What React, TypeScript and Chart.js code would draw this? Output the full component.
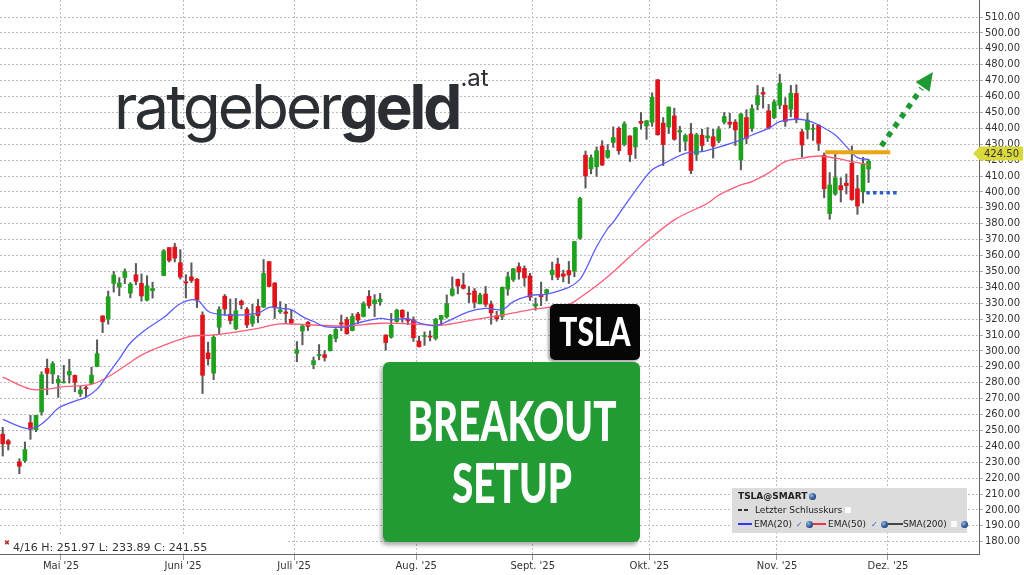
import React, { useEffect, useRef } from "react";
import { Chart, registerables } from "chart.js";

Chart.register(...registerables);

// ---------- DATA ----------
// Trading sessions shown on the chart (x categories). Sessions with null values are empty slots.
const days: string[] = [
  "04/16","04/17","04/18","04/21","04/22","04/23","04/24","04/25","04/28","04/29","04/30",
  "05/01","05/02","05/05","05/06","05/07","05/08","05/09","05/12","05/13","05/14","05/15","05/16","05/19","05/20","05/21","05/22","05/23","05/26","05/27","05/28","05/29","05/30",
  "06/02","06/03","06/04","06/05","06/06","06/09","06/10","06/11","06/12","06/13","06/16","06/17","06/18","06/20","06/23","06/24","06/25","06/26","06/27","06/30",
  "07/01","07/02","07/03","07/07","07/08","07/09","07/10","07/11","07/14","07/15","07/16","07/17","07/18","07/21","07/22","07/23","07/24","07/25","07/28","07/29","07/30","07/31",
  "08/01","08/04","08/05","08/06","08/07","08/08","08/11","08/12","08/13","08/14","08/15","08/18","08/19","08/20","08/21","08/22","08/25","08/26","08/27","08/28","08/29",
  "09/02","09/03","09/04","09/05","09/08","09/09","09/10","09/11","09/12","09/15","09/16","09/17","09/18","09/19","09/22","09/23","09/24","09/25","09/26","09/29","09/30",
  "10/01","10/02","10/03","10/06","10/07","10/08","10/09","10/10","10/13","10/14","10/15","10/16","10/17","10/20","10/21","10/22","10/23","10/24","10/27","10/28","10/29","10/30","10/31",
  "11/03","11/04","11/05","11/06","11/07","11/10","11/11","11/12","11/13","11/14","11/17","11/18","11/19","11/20","11/21","11/24","11/25","11/26","11/27","11/28",
  "12/01",
];

const openP: (number | null)[] = [
  247.6, 243.5, null, 230.3, 231.0, 254.9, 250.5, 261.7, 289.0, 285.5, 279.9,
  280.0, 284.9, 284.6, 273.1, 276.9, 279.6, 290.2, 322.0, 320.0, 342.5, 340.3, 346.2, 336.3, 347.9, 342.5, 331.9, 337.9, null, 347.4, 365.0, 365.3, 355.5,
  343.5, 346.6, 345.1, 322.5, 298.8, 286.0, 314.9, 334.4, 323.1, 314.0, 331.3, 326.1, 317.3, 328.0, 327.5, 356.2, 342.7, 324.6, 324.5, 319.9,
  298.5, 312.6, 318.0, 291.4, 297.0, 297.6, 300.1, 307.9, 317.7, 319.7, 312.8, 323.2, 321.7, 334.4, 329.7, 330.9, 310.0, 308.7, 318.5, 325.6, 320.0, 319.6,
  306.2, 309.1, 308.8, 307.9, 319.8, 321.4, 335.0, 345.0, 341.5, 335.8, 337.7, 329.6, 335.8, 329.2, 322.1, 321.7, 338.9, 344.9, 353.0, 351.9, 347.2,
  328.2, 335.2, 336.2, 348.0, 354.6, 348.4, 350.6, 350.2, 370.9, 423.1, 414.5, 415.8, 428.9, 421.8, 431.1, 439.9, 429.8, 435.2, 428.3, 444.4, 441.5,
  443.8, 470.5, 443.3, 440.8, 447.8, 437.6, 431.8, 436.5, 423.5, 435.7, 434.0, 434.7, 432.1, 443.9, 443.9, 443.9, 420.0, 446.8, 439.9, 454.8, 462.5, 451.0, 446.8,
  454.5, 454.5, 452.0, 461.9, 437.8, 439.2, 439.4, 442.0, 423.0, 386.4, 398.7, 404.0, 405.5, 418.0, 402.0, 400.0, 414.4,
];

const highP: (number | null)[] = [
  251.97, 244.3, null, 232.2, 242.8, 259.5, 259.5, 286.9, 294.9, 293.3, 284.5,
  290.9, 294.8, 284.9, 277.7, 277.9, 289.8, 307.0, 322.2, 337.6, 350.0, 346.1, 351.6, 343.0, 355.0, 348.4, 347.3, 343.2, null, 363.8, 365.0, 367.7, 363.7,
  348.0, 355.4, 345.6, 324.6, 305.5, 309.8, 327.8, 335.5, 332.6, 333.0, 332.1, 327.3, 329.3, 332.4, 357.5, 356.3, 343.0, 331.1, 329.3, 325.6,
  305.9, 316.8, 318.5, 296.2, 304.0, 300.2, 310.5, 314.1, 322.6, 321.2, 323.5, 324.3, 330.9, 338.0, 335.4, 336.2, 310.2, 323.6, 326.3, 326.0, 324.5, 321.4,
  309.3, 312.0, 312.6, 320.5, 322.4, 335.2, 346.6, 345.3, 348.9, 340.5, 339.3, 336.3, 340.6, 331.4, 324.9, 340.3, 349.5, 351.9, 355.4, 353.5, 348.8,
  333.3, 343.3, 338.9, 355.9, 358.4, 350.8, 356.3, 369.0, 396.7, 425.7, 423.3, 428.3, 432.2, 429.8, 440.9, 440.9, 444.2, 435.4, 440.5, 450.0, 445.0,
  462.3, 470.8, 446.8, 453.5, 452.7, 441.3, 436.4, 443.1, 436.9, 439.4, 440.5, 439.4, 441.1, 450.0, 449.5, 445.5, 449.4, 451.7, 454.8, 467.0, 465.7, 455.0, 458.0,
  474.1, 459.3, 467.0, 467.4, 439.4, 449.7, 442.5, 442.3, 424.5, 412.2, 423.9, 408.9, 411.3, 428.9, 410.4, 421.7, 420.5,
];

const lowP: (number | null)[] = [
  233.89, 237.7, null, 222.8, 229.9, 244.4, 249.2, 259.6, 272.4, 279.5, 270.8,
  279.8, 279.8, 274.3, 271.4, 271.0, 279.4, 290.0, 311.5, 316.8, 337.0, 334.7, 342.3, 333.4, 341.6, 331.3, 331.4, 333.2, null, 347.3, 355.9, 356.0, 345.2,
  333.3, 343.0, 327.3, 273.2, 291.1, 281.9, 310.7, 322.5, 316.9, 313.3, 326.4, 314.7, 315.5, 317.8, 327.5, 340.4, 320.4, 323.6, 317.5, 316.6,
  293.2, 303.8, 312.8, 288.8, 294.4, 293.6, 300.0, 305.7, 312.7, 310.5, 312.6, 317.1, 321.4, 326.9, 321.6, 328.7, 300.4, 308.0, 318.0, 318.0, 316.5, 306.0,
  302.5, 303.5, 306.3, 306.9, 316.2, 320.6, 334.5, 335.9, 338.9, 330.4, 327.0, 329.6, 327.9, 316.8, 318.7, 319.7, 335.0, 343.7, 345.1, 340.7, 331.7,
  325.6, 328.5, 331.5, 344.7, 344.8, 343.4, 342.4, 346.6, 370.2, 402.4, 411.4, 409.7, 416.6, 421.1, 428.0, 423.7, 429.0, 419.1, 421.0, 439.4, 433.1,
  441.3, 435.6, 416.6, 436.7, 432.5, 425.2, 426.0, 411.5, 419.7, 425.3, 431.7, 421.3, 430.9, 442.7, 440.4, 429.2, 413.9, 430.3, 438.1, 451.6, 452.7, 439.6, 446.1,
  452.3, 441.2, 447.2, 443.5, 421.9, 433.4, 432.4, 426.0, 396.3, 382.8, 397.9, 393.7, 398.7, 394.7, 385.9, 393.0, 405.9,
];

const closeP: (number | null)[] = [
  241.55, 241.4, null, 227.5, 238.0, 250.7, 259.5, 285.0, 285.9, 292.0, 282.2,
  280.5, 287.2, 280.3, 275.4, 276.2, 284.8, 298.3, 318.4, 334.1, 347.7, 342.8, 350.0, 342.1, 343.8, 334.6, 341.0, 339.3, null, 362.9, 356.9, 358.4, 346.5,
  342.7, 344.3, 332.0, 284.7, 295.1, 308.6, 326.1, 326.4, 319.1, 325.3, 329.1, 316.4, 322.1, 322.2, 348.7, 340.5, 327.6, 325.8, 323.6, 317.7,
  300.7, 315.7, 315.4, 293.9, 297.8, 295.9, 309.9, 313.5, 316.9, 310.8, 321.7, 319.4, 329.7, 328.5, 332.1, 332.6, 305.3, 316.1, 325.6, 321.2, 319.0, 308.3,
  302.6, 309.3, 308.7, 319.9, 322.3, 329.7, 339.0, 340.8, 339.4, 335.6, 330.6, 335.2, 329.3, 323.9, 320.1, 340.0, 346.6, 351.7, 349.6, 346.0, 333.9,
  329.4, 334.1, 338.5, 350.8, 346.4, 347.0, 347.8, 368.8, 395.9, 410.0, 421.6, 425.9, 416.9, 426.1, 434.2, 425.9, 442.8, 423.4, 440.4, 443.2, 444.7,
  459.5, 436.0, 429.8, 453.3, 433.1, 438.7, 435.5, 413.5, 435.9, 429.2, 435.2, 428.8, 439.3, 447.4, 442.6, 439.0, 449.0, 433.7, 452.4, 460.6, 461.5, 440.1, 456.6,
  468.4, 444.3, 462.1, 445.9, 429.5, 445.2, 439.6, 430.6, 402.0, 404.4, 408.9, 401.3, 404.0, 395.2, 391.1, 417.8, 419.4,
];

// EMA(20) at selected sessions
const ema20Days: string[] = [
  "04/16","04/22","04/24","04/28","04/30","05/05","05/07","05/09","05/13","05/15","05/19","05/22","05/27","05/30",
  "06/04","06/06","06/10","06/13","06/20","06/24","06/26","06/30","07/02","07/07","07/09","07/14","07/15","07/17",
  "07/23","07/25","07/30","08/01","08/06","08/08","08/14","08/19","08/22","08/26","08/29","09/04","09/10","09/12",
  "09/15","09/17","09/19","09/22","09/24","09/29","10/01","10/03","10/09","10/14","10/17","10/23","10/27","10/30",
  "11/03","11/06","11/10","11/12","11/17","11/19","11/21","11/25",
];
const ema20: number[] = [
  257.0, 251.5, 252.0, 257.0, 264.0, 268.5, 271.0, 276.0, 285.5, 295.0, 305.0, 314.0, 321.0, 329.7,
  332.0, 325.0, 323.0, 322.5, 323.8, 327.4, 326.8, 326.0, 321.6, 318.5, 315.3, 314.9, 315.3, 317.6,
  320.5, 319.6, 320.3, 317.6, 315.9, 318.4, 324.7, 326.8, 326.0, 331.0, 334.8, 335.8, 340.0, 345.0,
  351.0, 365.5, 377.0, 381.0, 391.0, 405.5, 414.0, 417.6, 424.3, 425.3, 428.1, 432.7, 435.8, 440.0,
  444.2, 445.7, 444.8, 442.1, 435.8, 428.5, 421.6, 420.5,
];

// EMA(50) at selected sessions
const ema50Days: string[] = [
  "04/16","04/23","04/28","05/01","05/08","05/13","05/16","05/21","05/27","06/03","06/06","06/12","06/20","06/26",
  "07/07","07/15","07/23","07/31","08/07","08/14","08/22","09/02","09/10","09/12","09/19","09/29","10/07","10/15",
  "10/17","10/23","10/27","10/30","11/04","11/07","11/12","11/17","11/20","11/25",
];
const ema50: number[] = [
  283.5, 276.0, 276.0, 277.5, 279.0, 283.8, 290.5, 297.4, 303.5, 309.3, 309.8, 311.4, 314.2, 317.0,
  316.3, 315.7, 317.4, 317.0, 316.3, 319.1, 322.6, 326.4, 329.5, 333.5, 346.7, 365.6, 382.4, 392.9,
  398.0, 404.4, 406.5, 412.0, 419.1, 421.2, 422.6, 421.2, 419.1, 417.0,
];

// Axis labels
const monthStarts: string[] = ["05/01", "06/02", "07/01", "08/01", "09/02", "10/01", "11/03", "12/01"];
const monthLabels: string[] = ["Mai '25", "Juni '25", "Juli '25", "Aug. '25", "Sept. '25", "Okt. '25", "Nov. '25", "Dez. '25"];

// Annotation levels
const lastPrice = 424.5;
const breakoutLevel = 425.0;
const supportLevel = 399.5;

// ---------- CHART ----------
const UP = "#1ea21e";
const DOWN = "#e0141a";

function buildConfig(): any {
  const idx = days
    .map((_, i) => i)
    .filter((i) => i < openP.length && openP[i] != null);

  const bodyData = idx.map((i) => ({ x: i, y: [openP[i] as number, closeP[i] as number] }));
  const bodyColors = idx.map((i) => ((closeP[i] as number) >= (openP[i] as number) ? UP : DOWN));
  const wickData = idx.map((i) => ({ x: i, y: [lowP[i] as number, highP[i] as number] }));

  const ema20Data = ema20Days.map((d, k) => ({ x: days.indexOf(d), y: ema20[k] }));
  const ema50Data = ema50Days.map((d, k) => ({ x: days.indexOf(d), y: ema50[k] }));

  const monthTicks = monthStarts.map((d) => days.indexOf(d) - 0.5);

  const annotations = {
    id: "annotations",
    afterDatasetsDraw(chart: any) {
      const { ctx } = chart;
      const x = chart.scales.x;
      const y = chart.scales.y;
      ctx.save();
      // breakout resistance line
      ctx.strokeStyle = "#e9a514";
      ctx.lineWidth = 4;
      ctx.beginPath();
      ctx.moveTo(x.getPixelForValue(148.2), y.getPixelForValue(breakoutLevel));
      ctx.lineTo(x.getPixelForValue(159.9), y.getPixelForValue(breakoutLevel));
      ctx.stroke();
      // support dotted line
      ctx.strokeStyle = "#2a5fc8";
      ctx.lineWidth = 3.5;
      ctx.setLineDash([3.5, 3.2]);
      ctx.beginPath();
      ctx.moveTo(x.getPixelForValue(155.6), y.getPixelForValue(supportLevel));
      ctx.lineTo(x.getPixelForValue(161.4), y.getPixelForValue(supportLevel));
      ctx.stroke();
      // green dotted arrow
      const sx = x.getPixelForValue(158.3);
      const sy = y.getPixelForValue(428.9);
      const tx = x.getPixelForValue(167.6);
      const ty = y.getPixelForValue(475.4);
      const dx = tx - sx;
      const dy = ty - sy;
      const len = Math.hypot(dx, dy);
      const ux = dx / len;
      const uy = dy / len;
      const headLen = 18;
      const bx = tx - ux * headLen;
      const by = ty - uy * headLen;
      ctx.strokeStyle = "#1f9a33";
      ctx.lineWidth = 5.5;
      ctx.setLineDash([5.5, 6]);
      ctx.beginPath();
      ctx.moveTo(sx, sy);
      ctx.lineTo(bx - ux * 2, by - uy * 2);
      ctx.stroke();
      ctx.setLineDash([]);
      ctx.fillStyle = "#1f9a33";
      ctx.beginPath();
      ctx.moveTo(tx, ty);
      ctx.lineTo(bx - uy * 8.5, by + ux * 8.5);
      ctx.lineTo(bx + uy * 8.5, by - ux * 8.5);
      ctx.closePath();
      ctx.fill();
      ctx.restore();
    },
    afterDraw(chart: any) {
      const { ctx, chartArea } = chart;
      const y = chart.scales.y;
      const yy = Math.round(y.getPixelForValue(lastPrice)) + 0.5;
      const r = chartArea.right;
      ctx.save();
      ctx.fillStyle = "#d9d93e";
      ctx.beginPath();
      ctx.moveTo(r - 6, yy);
      ctx.lineTo(r + 1, yy - 7);
      ctx.lineTo(r + 44, yy - 7);
      ctx.lineTo(r + 44, yy + 7);
      ctx.lineTo(r + 1, yy + 7);
      ctx.closePath();
      ctx.fill();
      ctx.fillStyle = "#333";
      ctx.font = '10px "DejaVu Sans"';
      ctx.textBaseline = "middle";
      ctx.textAlign = "left";
      ctx.fillText(lastPrice.toFixed(2), r + 5, yy + 0.5);
      ctx.restore();
    },
  };

  const noPad = (s: any) => {
    s.paddingTop = 0;
    s.paddingBottom = 0;
    s.paddingLeft = 0;
    s.paddingRight = 0;
  };

  return {
    type: "bar",
    data: {
      datasets: [
        {
          type: "line",
          label: "EMA(20)",
          data: ema20Data,
          borderColor: "#5b5bff",
          borderWidth: 1.3,
          pointRadius: 0,
          tension: 0.35,
          order: 0,
        },
        {
          type: "line",
          label: "EMA(50)",
          data: ema50Data,
          borderColor: "#ff5c78",
          borderWidth: 1.3,
          pointRadius: 0,
          tension: 0.35,
          order: 0,
        },
        {
          label: "body",
          data: bodyData,
          backgroundColor: bodyColors,
          barThickness: 4,
          minBarLength: 1,
          grouped: false,
          borderWidth: 0,
          order: 1,
        },
        {
          label: "wick",
          data: wickData,
          backgroundColor: "#5a5a5a",
          barThickness: 1.4,
          grouped: false,
          borderWidth: 0,
          order: 2,
        },
      ],
    },
    options: {
      responsive: false,
      animation: false,
      devicePixelRatio: 1,
      layout: { padding: 0 },
      events: [],
      plugins: { legend: { display: false }, tooltip: { enabled: false } },
      scales: {
        x: {
          type: "linear",
          min: -0.49,
          max: 175.9,
          offset: false,
          grid: {
            color: "#bdbdbd",
            offset: false,
            drawTicks: true,
            tickLength: 6,
            tickColor: "#999",
          },
          border: { display: true, color: "#666", dash: [2, 2] },
          ticks: {
            autoSkip: false,
            maxRotation: 0,
            padding: 0,
            color: "#333",
            font: { family: "DejaVu Sans", size: 10 },
            callback: (_v: any, i: number) => monthLabels[i],
          },
          afterBuildTicks: (s: any) => {
            s.ticks = monthTicks.map((v) => ({ value: v }));
          },
          afterFit: (s: any) => {
            s.height = 21;
            noPad(s);
          },
        },
        y: {
          type: "linear",
          position: "right",
          min: 172.3,
          max: 520.7,
          grid: {
            color: "#bdbdbd",
            drawTicks: true,
            tickLength: 4,
            tickColor: "#aaa",
          },
          border: { display: true, color: "#666", dash: [2, 2] },
          ticks: {
            stepSize: 10,
            padding: 2,
            color: "#333",
            font: { family: "DejaVu Sans", size: 10 },
            callback: (v: any) => Number(v).toFixed(2),
          },
          afterBuildTicks: (s: any) => {
            s.ticks = s.ticks.filter((t: any) => t.value >= 175 && t.value <= 515);
          },
          afterFit: (s: any) => {
            s.width = 45;
            noPad(s);
          },
        },
      },
    },
    plugins: [annotations],
  };
}

// ---------- SMALL UI PIECES ----------
const abs = (left: number | string, top: number, extra: any = {}): any => ({ position: "absolute", left, top, ...extra });

function Globe({ left, top }: { left: number; top: number }) {
  return (
    <span
      style={abs(left, top, {
        width: 7,
        height: 7,
        borderRadius: "50%",
        background: "radial-gradient(circle at 35% 35%, #8fb4e8 0, #2b4f8a 60%, #1d2f55 100%)",
      })}
    />
  );
}

function Box({ left, top }: { left: number; top: number }) {
  return <span style={abs(left, top, { width: 6, height: 6, background: "#fafafa" })} />;
}

function Check({ left, top }: { left: number; top: number }) {
  return <span style={abs(left, top, { fontSize: 8, color: "#2d5bd0", lineHeight: "9px" })}>✓</span>;
}

const bigText = (top: number, size: number, scale: number): any =>
  abs("50%", top, {
    whiteSpace: "nowrap",
    fontFamily: "Lato",
    fontWeight: 900,
    fontSize: size,
    lineHeight: `${size}px`,
    color: "#fff",
    transform: `translateX(-50%) scaleX(${scale})`,
    transformOrigin: "50% 50%",
  });

export default function App() {
  const ref = useRef<HTMLCanvasElement>(null);

  useEffect(() => {
    if (!ref.current) return;
    const chart = new Chart(ref.current, buildConfig());
    return () => chart.destroy();
  }, []);

  const txt = { fontFamily: "DejaVu Sans", fontSize: 9, color: "#222", lineHeight: "11px", whiteSpace: "nowrap" };

  return (
    <div style={{ position: "fixed", left: 0, top: 0, width: 1024, height: 575, background: "#fff", overflow: "hidden" }}>
      <canvas ref={ref} width={1024} height={575} style={{ position: "absolute", left: 0, top: 0, width: 1024, height: 575 }} />

      {/* logo */}
      <div
        style={abs(114, 76, {
          fontFamily: "Inter",
          fontSize: 62,
          lineHeight: "62px",
          letterSpacing: "-3px",
          color: "#2b2e33",
          whiteSpace: "nowrap",
        })}
      >
        <span style={{ fontWeight: 400 }}>ratgeber</span>
        <span style={{ fontWeight: 700 }}>geld</span>
        <span style={{ fontWeight: 400, fontSize: 24, letterSpacing: 0, position: "relative", top: -43, marginLeft: 1 }}>.at</span>
      </div>

      {/* TSLA tag */}
      <div style={abs(550, 304, { width: 90, height: 56, background: "#060606", borderRadius: 5, boxShadow: "-2px 2px 3px rgba(0,0,0,0.35)" })}>
        <div style={bigText(7, 40, 0.75)}>TSLA</div>
      </div>

      {/* Breakout setup box */}
      <div style={abs(383, 362, { width: 257, height: 180, background: "#229b35", borderRadius: 6, boxShadow: "-2px 3px 4px rgba(0,0,0,0.35)" })}>
        <div style={bigText(30, 56, 0.69)}>BREAKOUT</div>
        <div style={bigText(92, 56, 0.69)}>SETUP</div>
      </div>

      {/* legend */}
      <div style={abs(732, 488, { width: 235, height: 45, background: "#dcdcdc" })}>
        <span style={abs(6, 2.5, { ...txt, fontWeight: "bold" })}>TSLA@SMART</span>
        <Globe left={77} top={4.5} />
        <span style={abs(6, 21, { width: 4, height: 1.5, background: "#333" })} />
        <span style={abs(12, 21, { width: 4, height: 1.5, background: "#333" })} />
        <span style={abs(23, 16.5, txt)}>Letzter Schlusskurs</span>
        <Box left={113} top={19} />
        <span style={abs(6, 35, { width: 14, height: 1.5, background: "#3333ff" })} />
        <span style={abs(22, 30.5, txt)}>EMA(20)</span>
        <Check left={64} top={31.5} />
        <Globe left={74} top={32.5} />
        <span style={abs(81, 35, { width: 13, height: 1.5, background: "#ee3344" })} />
        <span style={abs(96, 30.5, txt)}>EMA(50)</span>
        <Check left={139} top={31.5} />
        <Globe left={149} top={32.5} />
        <span style={abs(156, 35, { width: 15, height: 1.5, background: "#444" })} />
        <span style={abs(171, 30.5, txt)}>SMA(200)</span>
        <Box left={219} top={33} />
        <Globe left={229} top={32.5} />
      </div>

      {/* info bar */}
      <div style={abs(0, 536, { width: 286, height: 17, background: "#fff" })}>
        <span style={abs(4, 3, { fontSize: 7, color: "#b22", fontFamily: "DejaVu Sans", lineHeight: "8px" })}>✖</span>
        <span style={abs(13, 5, { fontFamily: "DejaVu Sans", fontSize: 11, lineHeight: "13px", color: "#333", whiteSpace: "nowrap" })}>
          4/16 H: 251.97 L: 233.89 C: 241.55
        </span>
      </div>
    </div>
  );
}
